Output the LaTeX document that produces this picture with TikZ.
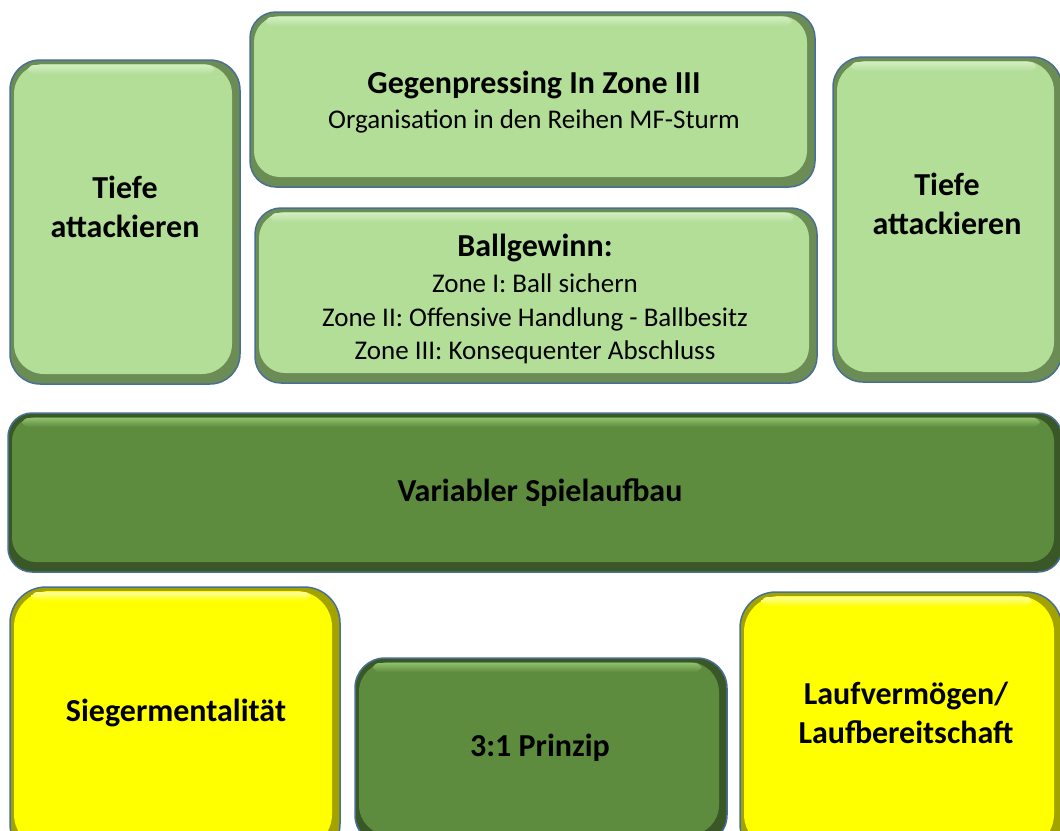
\documentclass[tikz,border=0pt]{standalone}
\usepackage{fontspec}
\setmainfont{Carlito}
\usetikzlibrary{fit}
\definecolor{edge}{HTML}{4A6F94}
% light green panels
\definecolor{lgMain}{HTML}{B3DE98}
\definecolor{lgDark}{HTML}{6C8C55}
\definecolor{lgHigh}{HTML}{D3EDC2}
% dark green panels
\definecolor{dgMain}{HTML}{5E8C3E}
\definecolor{dgDark}{HTML}{3A5727}
\definecolor{dgHigh}{HTML}{8EC06C}
% yellow panels
\definecolor{yeMain}{HTML}{FFFF00}
\definecolor{yeDark}{HTML}{A3A300}
\definecolor{yeHigh}{HTML}{FFFF99}
\tikzset{
  panel/.style n args={4}{
    inner sep=0pt, rounded corners=#1, draw=edge, line width=1.5pt, fill=#3,
    path picture={
      % main face, set in from the darker bevel on the right and bottom
      \fill[#2, rounded corners=#1]
        ([shift={(4pt,-4pt)}]path picture bounding box.north west) rectangle
        ([shift={(-8pt,10pt)}]path picture bounding box.south east);
      % light rim along the top of the face
      \shade[top color=#4, bottom color=#2, rounded corners=6pt]
        ([shift={(#1*0.6,-5pt)}]path picture bounding box.north west) rectangle
        ([shift={(-#1*0.6-8pt,-14pt)}]path picture bounding box.north east);
    }},
  lgpanel/.style={panel={#1}{lgMain}{lgDark}{lgHigh}},
  dgpanel/.style={panel={#1}{dgMain}{dgDark}{dgHigh}},
  yepanel/.style={panel={#1}{yeMain}{yeDark}{yeHigh}},
  head/.style={font=\bfseries\fontsize{32}{38.5}\selectfont, align=center, inner sep=0pt},
  yhead/.style={font=\bfseries\fontsize{32}{39}\selectfont, align=center, inner sep=0pt},
  sub/.style={font=\fontsize{27}{33.5}\selectfont, align=center, inner sep=0pt},
}
\begin{document}
\begin{tikzpicture}[x=1pt,y=-1pt]
\useasboundingbox[fill=white] (0,0) rectangle (1060,830);
\clip (0,0) rectangle (1060,830);

% upper block
\node[lgpanel=30pt, fit={(10,60) (240,384)}] (tiefeL) {};
\node[lgpanel=26pt, fit={(250,12) (815,187)}] (gegen) {};
\node[lgpanel=26pt, fit={(255,208) (817,383)}] (ball) {};
\node[lgpanel=30pt, fit={(833,57) (1062,382)}] (tiefeR) {};

% middle bar
\node[dgpanel=24pt, fit={(8,413) (1062,572)}] (spiel) {};

% lower block
\node[yepanel=36pt, fit={(10,587) (340,860)}] (sieger) {};
\node[dgpanel=30pt, fit={(355,658) (727,845)}] (prinzip) {};
\node[yepanel=36pt, fit={(740,592) (1062,860)}] (lauf) {};

% texts
\node[head] (tiefeLt) at (125,207) {Tiefe\\attackieren};
\node[head] (gegenT) at (534,85) {Gegenpressing In Zone III};
\node[sub] (gegenS) at (534,121) {Organisation in den Reihen MF-Sturm};
\node[head] (ballT) at (535,248) {Ballgewinn:};
\node[sub] (ballS) at (535,319) {Zone I: Ball sichern\\Zone II: Offensive Handlung - Ballbesitz\\Zone III: Konsequenter Abschluss};
\node[head] (tiefeRt) at (947,204) {Tiefe\\attackieren};
\node[head] (spielT) at (540,493) {Variabler Spielaufbau};
\node[yhead] (siegerT) at (176,713) {Siegermentalität};
\node[head] (prinzipT) at (540,748) {3:1 Prinzip};
\node[yhead] (laufT) at (906,713) {Laufvermögen/\\Laufbereitschaft};
\end{tikzpicture}
\end{document}
